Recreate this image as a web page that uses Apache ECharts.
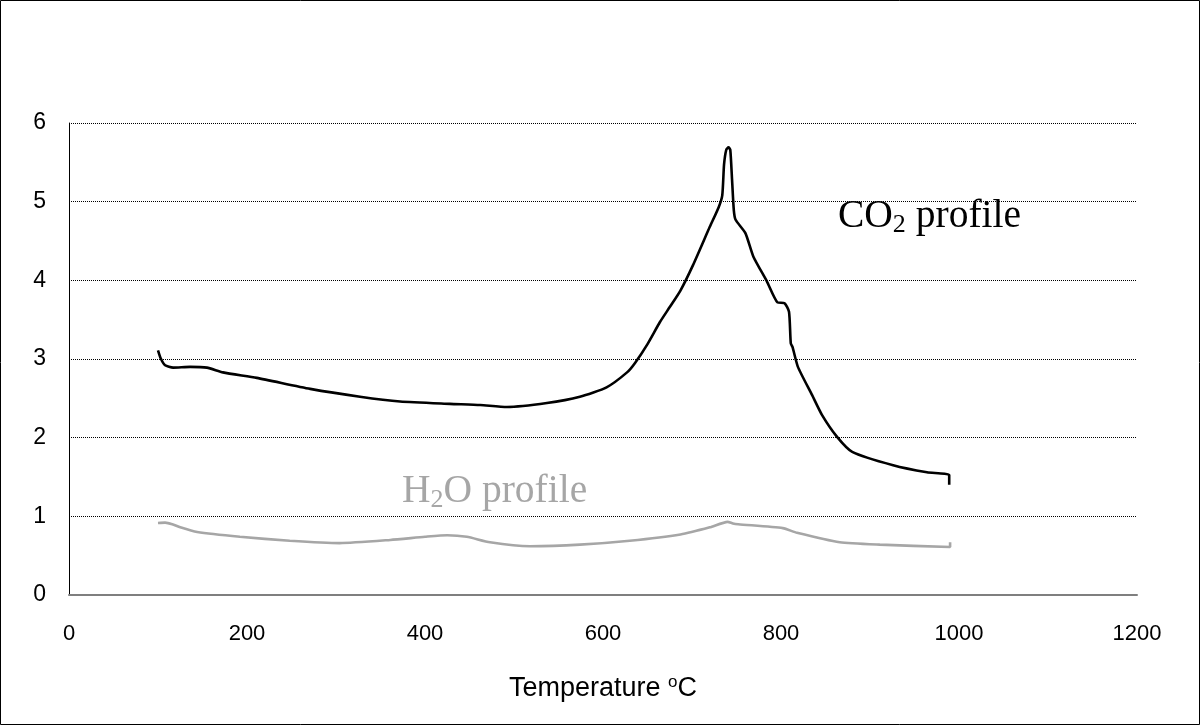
<!DOCTYPE html>
<html>
<head>
<meta charset="utf-8">
<script src="https://cdn.jsdelivr.net/npm/echarts@6/dist/echarts.min.js"></script>
<style>
html,body{margin:0;padding:0;background:#fff;}
#chart{width:1200px;height:725px;}
</style>
</head>
<body>
<div id="chart"></div>
<script>
// Temperature (°C) and CO2 signal
var co2X = [100,103,108,117,136,155,173,211,271,327,372,428,462,492,537,574,604,627,636,650,664,675,687,701,720,730,734,736,738.5,741,743,745,747,749,760,769,784,796,804,809,811,813,819,835,846,863,880,926,964,989,989];
var co2Y = [3.11,3.01,2.92,2.89,2.90,2.89,2.83,2.76,2.62,2.52,2.46,2.43,2.415,2.39,2.44,2.52,2.64,2.83,2.95,3.19,3.47,3.66,3.87,4.19,4.68,4.93,5.08,5.47,5.66,5.69,5.66,5.28,4.89,4.77,4.60,4.30,3.99,3.72,3.71,3.60,3.20,3.15,2.90,2.54,2.29,2.01,1.82,1.65,1.56,1.525,1.40];
// Temperature (°C) and H2O signal
var h2oX = [100,108,116,125,144,192,248,304,361,400,425,447,473,518,574,630,687,720,740,746,752,802,818,866,911,990,990];
var h2oY = [0.915,0.92,0.90,0.86,0.80,0.74,0.69,0.66,0.70,0.74,0.76,0.74,0.67,0.62,0.64,0.69,0.77,0.86,0.93,0.91,0.90,0.85,0.79,0.67,0.64,0.61,0.67];
var xTicks = [0,200,400,600,800,1000,1200];
var yTicks = [0,1,2,3,4,5,6];

function pairs(xs, ys){ return xs.map(function(x,i){ return [x, ys[i]]; }); }

var chart = echarts.init(document.getElementById('chart'), null, {renderer:'canvas'});
chart.setOption({
  animation:false,
  backgroundColor:'#fff',
  grid:{left:69, right:63, top:123, bottom:130, containLabel:false},
  xAxis:{
    type:'value', min:xTicks[0], max:xTicks[xTicks.length-1], interval:200,
    axisLine:{show:true, lineStyle:{color:'#7f7f7f', width:2}},
    axisTick:{show:false},
    splitLine:{show:false},
    axisLabel:{color:'#000', fontSize:22, fontFamily:'Liberation Sans, Arial, sans-serif', margin:28,
      formatter:function(v){ return String(v); }},
    name:'{a|Temperature }{s|o}{a|C}',
    nameLocation:'middle', nameGap:79,
    nameTextStyle:{
      rich:{
        a:{fontSize:27, color:'#000', fontFamily:'Liberation Sans, Arial, sans-serif', lineHeight:29},
        s:{fontSize:17, color:'#000', fontFamily:'Liberation Sans, Arial, sans-serif', verticalAlign:'top', lineHeight:17}
      }
    }
  },
  yAxis:{
    type:'value', min:yTicks[0], max:yTicks[yTicks.length-1], interval:1,
    axisLine:{show:true, lineStyle:{color:'#000', width:1}},
    axisTick:{show:false},
    splitLine:{show:true, lineStyle:{color:'#000', type:[1,1], width:1}},
    axisLabel:{color:'#000', fontSize:23, fontFamily:'Liberation Sans, Arial, sans-serif', margin:23,
      formatter:function(v){ return String(v); }}
  },
  series:[
    {type:'line', name:'CO2', data:pairs(co2X, co2Y), showSymbol:false, smooth:0.2,
     lineStyle:{color:'#000', width:2.6}, z:3},
    {type:'line', name:'H2O', data:pairs(h2oX, h2oY), showSymbol:false, smooth:0.2,
     lineStyle:{color:'#a6a6a6', width:2.6}, z:2}
  ],
  graphic:[
    {type:'rect', shape:{x:0.5, y:0.5, width:1199, height:724}, style:{fill:'none', stroke:'#000', lineWidth:1}, silent:true},
    {type:'text', left:838, top:197, style:{
      text:'{a|CO}{b|2}{a| profile}',
      rich:{
        a:{fontSize:39.5, fill:'#000', fontFamily:'Liberation Serif, Times New Roman, serif', lineHeight:43},
        b:{fontSize:26, fill:'#000', fontFamily:'Liberation Serif, Times New Roman, serif', verticalAlign:'bottom', lineHeight:26}
      }
    }},
    {type:'text', left:402, top:472, style:{
      text:'{a|H}{b|2}{a|O profile}',
      rich:{
        a:{fontSize:39.5, fill:'#a6a6a6', fontFamily:'Liberation Serif, Times New Roman, serif', lineHeight:43},
        b:{fontSize:26, fill:'#a6a6a6', fontFamily:'Liberation Serif, Times New Roman, serif', verticalAlign:'bottom', lineHeight:26}
      }
    }}
  ]
});
</script>
</body>
</html>
